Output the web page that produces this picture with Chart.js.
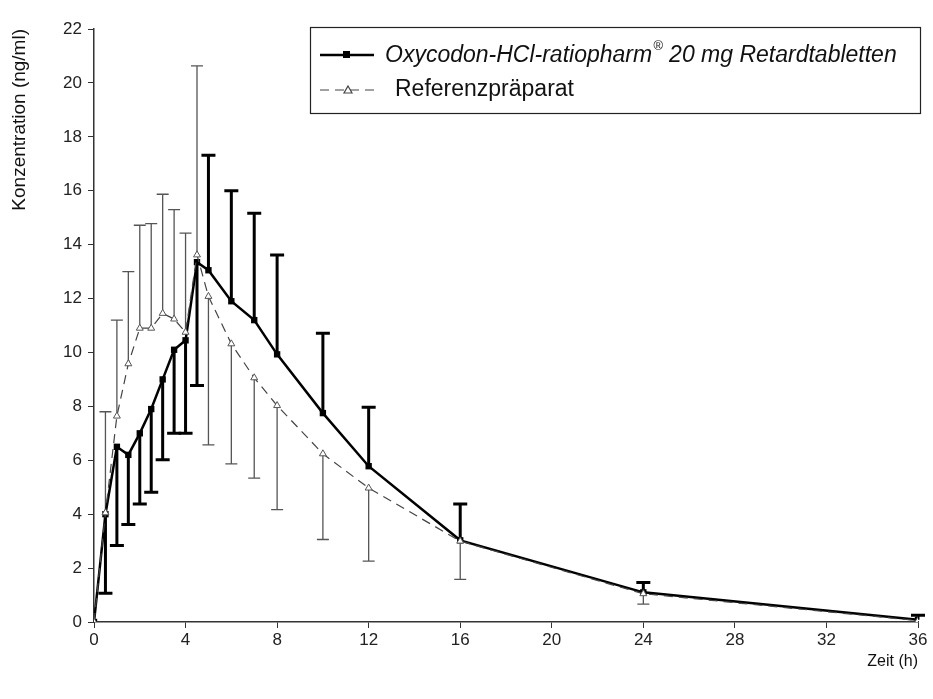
<!DOCTYPE html>
<html>
<head>
<meta charset="utf-8">
<script src="https://cdn.jsdelivr.net/npm/chart.js@4.4.1/dist/chart.umd.min.js"></script>
<style>
  html, body { margin: 0; padding: 0; background: #fff; }
  #wrap { width: 933px; height: 699px; }
</style>
</head>
<body>
<div id="wrap"><canvas id="chartCanvas" width="933" height="699"></canvas></div>
<script>
// Zeitpunkte (h)
const zeit = [0, 0.5, 1, 1.5, 2, 2.5, 3, 3.5, 4, 4.5, 5, 6, 7, 8, 10, 12, 16, 24, 36];

// Oxycodon-HCl-ratiopharm 20 mg Retardtabletten
const testMittel = [0, 4.0, 6.5, 6.2, 7.0, 7.9, 9.0, 10.1, 10.45, 13.35, 13.05, 11.9, 11.2, 9.93, 7.75, 5.78, 3.03, 1.1, 0.08];
const testUnten  = [null, 1.07, 2.84, 3.62, 4.38, 4.81, 6.02, 7.0, 7.0, 8.77, null, null, null, null, null, null, null, null, null];
const testOben   = [null, null, null, null, null, null, null, null, null, null, 17.32, 16.0, 15.16, 13.62, 10.71, 7.97, 4.38, 1.47, 0.25];

// Referenzpräparat
const refMittel = [0, 4.05, 7.64, 9.58, 10.9, 10.9, 11.45, 11.24, 10.75, 13.62, 12.08, 10.32, 9.06, 8.03, 6.24, 4.97, 3.0, 1.05, 0.05];
const refOben   = [null, 7.8, 11.2, 13.0, 14.72, 14.78, 15.87, 15.3, 14.43, 20.63, null, null, null, null, null, null, null, null, null];
const refUnten  = [null, null, null, null, null, null, null, null, null, null, 6.57, 5.87, 5.34, 4.17, 3.06, 2.26, 1.58, 0.66, null];

const xTicks = [0, 4, 8, 12, 16, 20, 24, 28, 32, 36];
const yTicks = [0, 2, 4, 6, 8, 10, 12, 14, 16, 18, 20, 22];

const legendeTest = 'Oxycodon-HCl-ratiopharm';
const legendeTestRest = ' 20 mg Retardtabletten';
const legendeRef = 'Referenzpräparat';

function punkte(werte) {
    return zeit.map((t, i) => ({ x: t, y: werte[i] }));
}

// Fehlerbalken zeichnen
const fehlerbalken = {
    id: 'fehlerbalken',
    beforeDatasetsDraw(chart) {
        const ctx = chart.ctx;
        const xs = chart.scales.x, ys = chart.scales.y;
        const balken = (mittel, grenze, farbe, breite, kappe) => {
            ctx.save();
            ctx.strokeStyle = farbe;
            ctx.lineWidth = breite;
            zeit.forEach((t, i) => {
                if (grenze[i] === null) return;
                const px = xs.getPixelForValue(t);
                const y0 = ys.getPixelForValue(mittel[i]);
                const y1 = ys.getPixelForValue(grenze[i]);
                ctx.beginPath();
                ctx.moveTo(px, y0);
                ctx.lineTo(px, y1);
                ctx.moveTo(px - kappe, y1);
                ctx.lineTo(px + kappe, y1);
                ctx.stroke();
            });
            ctx.restore();
        };
        balken(refMittel, refOben, '#555', 1.3, 6);
        balken(refMittel, refUnten, '#555', 1.3, 6);
        balken(testMittel, testUnten, '#000', 3, 7);
        balken(testMittel, testOben, '#000', 3, 7);
    }
};

// eigene Legende im Kasten
const legendeKasten = {
    id: 'legendeKasten',
    afterDraw(chart) {
        const ctx = chart.ctx;
        ctx.save();
        ctx.strokeStyle = '#222';
        ctx.lineWidth = 1.2;
        ctx.strokeRect(310.5, 27.5, 610, 86);

        // Zeile 1
        ctx.strokeStyle = '#000';
        ctx.lineWidth = 2.5;
        ctx.beginPath();
        ctx.moveTo(320, 55);
        ctx.lineTo(374, 55);
        ctx.stroke();
        ctx.fillStyle = '#000';
        ctx.fillRect(343, 51, 7, 7);

        ctx.fillStyle = '#111';
        ctx.textBaseline = 'middle';
        ctx.font = 'italic 23px "Liberation Sans", Arial';
        ctx.fillText(legendeTest, 385, 56);
        const w = ctx.measureText(legendeTest).width;
        ctx.font = 'italic 13px "Liberation Sans", Arial';
        ctx.fillText('®', 385 + w + 1, 46);
        const w2 = ctx.measureText('®').width;
        ctx.font = 'italic 23px "Liberation Sans", Arial';
        ctx.fillText(legendeTestRest, 385 + w + w2 + 1, 56);

        // Zeile 2
        ctx.strokeStyle = '#444';
        ctx.lineWidth = 1.2;
        ctx.setLineDash([9, 6]);
        ctx.beginPath();
        ctx.moveTo(320, 90);
        ctx.lineTo(376, 90);
        ctx.stroke();
        ctx.setLineDash([]);
        ctx.fillStyle = '#fff';
        ctx.beginPath();
        ctx.moveTo(348, 86);
        ctx.lineTo(352, 93);
        ctx.lineTo(344, 93);
        ctx.closePath();
        ctx.fill();
        ctx.stroke();

        ctx.fillStyle = '#111';
        ctx.font = '23px "Liberation Sans", Arial';
        ctx.fillText(legendeRef, 395, 90);
        ctx.restore();
    }
};

const ctx = document.getElementById('chartCanvas').getContext('2d');
const chart = new Chart(ctx, {
    type: 'line',
    data: {
        datasets: [{
            label: legendeRef,
            data: punkte(refMittel),
            borderColor: '#444',
            borderWidth: 1.2,
            borderDash: [9, 6],
            pointStyle: 'triangle',
            pointRadius: 4,
            pointBackgroundColor: '#fff',
            pointBorderColor: '#555',
            pointBorderWidth: 1,
            tension: 0,
            fill: false
        }, {
            label: legendeTest,
            data: punkte(testMittel),
            borderColor: '#000',
            borderWidth: 2.5,
            pointStyle: 'rect',
            pointRadius: 4.5,
            pointBackgroundColor: '#000',
            pointBorderColor: '#000',
            pointBorderWidth: 0,
            tension: 0,
            fill: false
        }]
    },
    options: {
        responsive: false,
        animation: false,
        layout: { padding: { top: 29, right: 15, left: 0, bottom: 0 } },
        scales: {
            x: {
                type: 'linear',
                min: 0,
                max: 36,
                afterBuildTicks: (s) => { s.ticks = xTicks.map(v => ({ value: v })); },
                afterFit: (s) => { s.height = 77; },
                border: { display: true, color: '#333', width: 1.5 },
                grid: { display: true, drawOnChartArea: false, drawTicks: true, tickLength: 6, color: '#333' },
                ticks: {
                    color: '#222',
                    padding: 2,
                    font: { family: '"Liberation Sans", Arial', size: 17 }
                },
                title: {
                    display: true,
                    text: 'Zeit (h)',
                    align: 'end',
                    color: '#111',
                    padding: { top: 4, bottom: 28 },
                    font: { family: '"Liberation Sans", Arial', size: 16 }
                }
            },
            y: {
                min: 0,
                max: 22,
                afterBuildTicks: (s) => { s.ticks = yTicks.map(v => ({ value: v })); },
                afterFit: (s) => { s.width = 94; },
                border: { display: true, color: '#333', width: 1.5 },
                grid: { display: true, drawOnChartArea: false, drawTicks: true, tickLength: 6, color: '#333' },
                ticks: {
                    color: '#222',
                    padding: 6,
                    font: { family: '"Liberation Sans", Arial', size: 17 }
                },
                title: {
                    display: true,
                    text: 'Konzentration (ng/ml)',
                    align: 'end',
                    color: '#111',
                    padding: { top: 8, bottom: 0 },
                    font: { family: '"Liberation Sans", Arial', size: 19 }
                }
            }
        },
        plugins: {
            legend: { display: false },
            tooltip: { enabled: false }
        }
    },
    plugins: [fehlerbalken, legendeKasten]
});
</script>
</body>
</html>
